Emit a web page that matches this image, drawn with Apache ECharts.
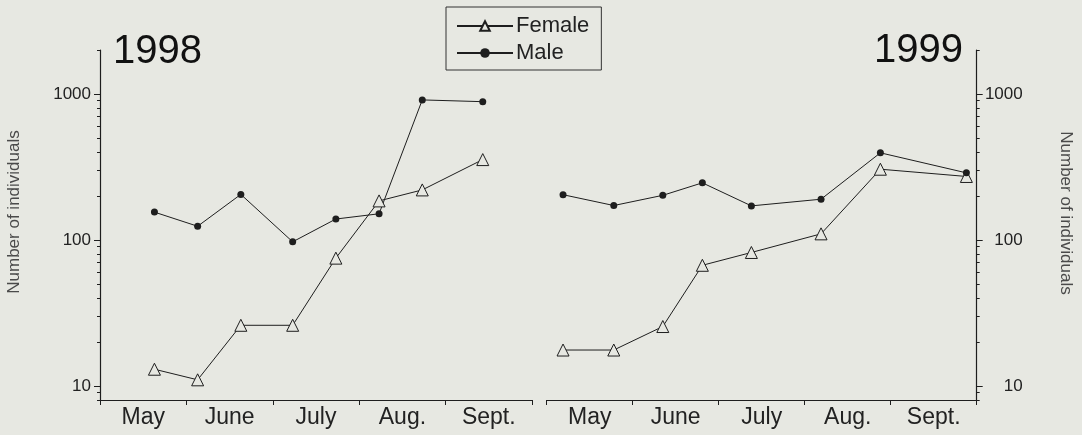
<!DOCTYPE html>
<html>
<head>
<meta charset="utf-8">
<script src="https://cdn.jsdelivr.net/npm/echarts@6/dist/echarts.min.js"></script>
<style>
  html, body { margin: 0; padding: 0; background: #e7e8e2; }
  #chart { width: 1082px; height: 435px; }
</style>
</head>
<body>
<div id="chart"></div>
<script>
  /* month bands on the x axis, sample dates are in month units (0 = start of May) */
  var months = ['May', 'June', 'July', 'Aug.', 'Sept.'];
  var monthEdges = [0, 1, 2, 3, 4, 5];
  var monthCentres = [0.5, 1.5, 2.5, 3.5, 4.5];

  /* 1998 */
  var samples1998 = [0.63, 1.13, 1.63, 2.23, 2.73, 3.23, 3.73, 4.43];
  var female1998 = [13, 11, 26, 26, 75, 185, 220, 355];
  var male1998 = [155, 124, 205, 97, 139, 151, 910, 885];

  /* 1999 */
  var samples1999 = [0.19, 0.78, 1.35, 1.81, 2.38, 3.19, 3.88, 4.88];
  var female1999 = [17.6, 17.6, 25.5, 67, 82, 110, 305, 272];
  var male1999 = [204, 172, 202, 246, 171, 190, 395, 288];

  /* log axis ticks */
  var yMajor = [10, 100, 1000];
  var yMinor = [8, 9, 20, 30, 40, 50, 60, 70, 80, 90, 200, 300, 400, 500, 600, 700, 800, 900, 2000];

  var font = 'Liberation Sans, Arial, sans-serif';
  var ink = '#1e1e1e';
  var paper = '#e7e8e2';

  function pairs(xs, ys) {
    return xs.map(function (x, i) { return [x, ys[i]]; });
  }

  function xAxisFor(grid, show) {
    return {
      type: 'value', gridIndex: grid, min: 0, max: 5, show: show,
      axisLine: { show: true, onZero: false, lineStyle: { color: ink, width: 1.2 } },
      axisTick: { show: true, customValues: monthEdges, length: 5, lineStyle: { color: ink } },
      axisLabel: {
        show: true, customValues: monthCentres, margin: 6,
        fontSize: 23, color: '#222', fontFamily: font,
        formatter: function (v) { return months[Math.floor(v)]; }
      },
      splitLine: { show: false }
    };
  }

  function yAxisFor(grid, side, major) {
    var right = side === 'right';
    return {
      type: 'log', gridIndex: grid, position: side, min: 8, max: 2000,
      name: major ? 'Number of individuals' : '',
      nameLocation: 'middle',
      nameGap: right ? 80 : 77,
      nameRotate: right ? -90 : 90,
      nameTextStyle: {
        fontSize: 17, color: '#4a4a4a', fontFamily: font,
        padding: right ? [0, 24, 0, 0] : [0, 0, 0, 26]
      },
      axisLine: { show: major, onZero: false, lineStyle: { color: ink, width: 1.2 } },
      axisTick: {
        show: true, customValues: major ? yMajor : yMinor,
        length: major ? 6 : 3, lineStyle: { color: ink }
      },
      axisLabel: {
        show: major, customValues: yMajor, fontSize: 17, color: '#222', fontFamily: font,
        align: 'right', margin: right ? 46 : 9,
        formatter: function (v) { return String(Math.round(v)); }
      },
      splitLine: { show: false }
    };
  }

  var chart = echarts.init(document.getElementById('chart'));

  var grids = [
    { left: 100, right: 550, top: 50, bottom: 35 },
    { left: 546.7, right: 105.3, top: 50, bottom: 35 }
  ];

  var femaleStyle = {
    type: 'line', name: 'Female', symbol: 'triangle', symbolSize: 12,
    lineStyle: { color: ink, width: 1 },
    itemStyle: { color: paper, borderColor: ink, borderWidth: 1 }
  };
  var maleStyle = {
    type: 'line', name: 'Male', symbol: 'circle', symbolSize: 7,
    lineStyle: { color: ink, width: 1 },
    itemStyle: { color: ink, borderColor: ink, borderWidth: 0 }
  };

  var titleText = { fontSize: 40, fontWeight: 'normal', color: '#111', fontFamily: font };

  chart.setOption({
    animation: false,
    backgroundColor: paper,
    title: [
      { text: '1998', left: 108, top: 27, textStyle: titleText },
      { text: '1999', right: 114, top: 26, textStyle: titleText }
    ],
    legend: {
      data: ['Female', 'Male'],
      orient: 'vertical', left: 446, top: 7,
      padding: [8, 12, 6, 10], itemGap: 5,
      itemWidth: 56, itemHeight: 12,
      borderColor: '#333', borderWidth: 1,
      textStyle: { fontSize: 22, color: '#222', fontFamily: font, padding: [0, 0, 0, -2] }
    },
    grid: grids.concat(grids),
    xAxis: [xAxisFor(0, true), xAxisFor(1, true), xAxisFor(2, false), xAxisFor(3, false)],
    yAxis: [yAxisFor(0, 'left', true), yAxisFor(1, 'right', true), yAxisFor(2, 'left', false), yAxisFor(3, 'right', false)],
    series: [
      Object.assign({ xAxisIndex: 0, yAxisIndex: 0, data: pairs(samples1998, female1998) }, femaleStyle),
      Object.assign({ xAxisIndex: 0, yAxisIndex: 0, data: pairs(samples1998, male1998) }, maleStyle),
      Object.assign({ xAxisIndex: 1, yAxisIndex: 1, data: pairs(samples1999, female1999) }, femaleStyle),
      Object.assign({ xAxisIndex: 1, yAxisIndex: 1, data: pairs(samples1999, male1999) }, maleStyle)
    ]
  });
</script>
</body>
</html>
